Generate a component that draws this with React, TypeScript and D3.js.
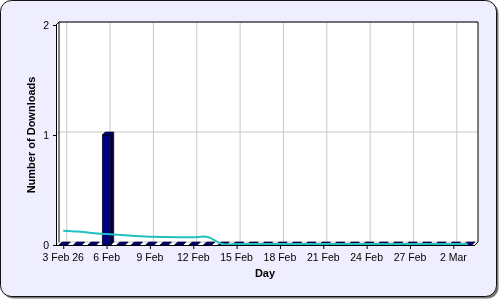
import React from "react";
import * as d3 from "d3";

const days = [
  "3 Feb", "4 Feb", "5 Feb", "6 Feb", "7 Feb", "8 Feb", "9 Feb", "10 Feb", "11 Feb", "12 Feb",
  "13 Feb", "14 Feb", "15 Feb", "16 Feb", "17 Feb", "18 Feb", "19 Feb", "20 Feb", "21 Feb", "22 Feb",
  "23 Feb", "24 Feb", "25 Feb", "26 Feb", "27 Feb", "28 Feb", "1 Mar", "2 Mar", "3 Mar",
];
const downloads = [
  0, 0, 0, 1, 0, 0, 0, 0, 0, 0,
  0, 0, 0, 0, 0, 0, 0, 0, 0, 0,
  0, 0, 0, 0, 0, 0, 0, 0, 0,
];
const trend = [
  0.121, 0.113, 0.1, 0.09, 0.081, 0.073, 0.067, 0.063, 0.061, 0.061,
  0.064, 0, 0, 0, 0, 0, 0, 0, 0, 0,
  0, 0, 0, 0, 0, 0, 0, 0, 0,
];
const tickDays = ["3 Feb", "6 Feb", "9 Feb", "12 Feb", "15 Feb", "18 Feb", "21 Feb", "24 Feb", "27 Feb", "2 Mar"];
const tickLabels = ["3 Feb 26", "6 Feb", "9 Feb", "12 Feb", "15 Feb", "18 Feb", "21 Feb", "24 Feb", "27 Feb", "2 Mar"];
const yTicks = [0, 1, 2];

const W = 500, H = 300;
const left = 56, right = 475, top = 25, bottom = 245;
const DX = 3, DY = 3;
const FONT = "'Liberation Sans', Arial, sans-serif";

export default function App() {
  const x = d3.scaleBand<string>().domain(days).range([left, right]).paddingInner(0.41).paddingOuter(0.2);
  const step = x.step();
  const xc = d3.scalePoint<string>().domain(days).range([left + step / 2, right - step / 2]);
  const y = d3.scaleLinear().domain([0, 2]).range([bottom, top]);
  const bw = x.bandwidth();

  const line = d3
    .line<number>()
    .x((_, i) => xc(days[i]) as number)
    .y((v) => y(v) - 1)
    .curve(d3.curveCatmullRom.alpha(0.5));

  return (
    <div style={{ position: "fixed", left: 0, top: 0 }}>
      <svg width={W} height={H} style={{ display: "block" }}>
        <rect x={2.5} y={2.5} width={496} height={296} rx={11} fill="#777" />
        <rect x={0.5} y={0.5} width={496} height={296} rx={11} fill="#EEEEFF" stroke="#111" />
        {/* plot background with 3D walls */}
        <polygon
          points={`${left},${bottom} ${left},${top} ${left + DX},${top - DY} ${right + DX},${top - DY} ${right + DX},${bottom - DY} ${right},${bottom}`}
          fill="#fff"
        />
        {/* horizontal grid on back wall */}
        {yTicks.map((t) => (
          <g key={"hg" + t}>
            <line x1={left + DX} x2={right + DX} y1={y(t) - DY} y2={y(t) - DY} stroke="#c8c8c8" />
            <line x1={left} x2={left + DX} y1={y(t)} y2={y(t) - DY} stroke="#c8c8c8" />
          </g>
        ))}
        {/* vertical grid */}
        {tickDays.map((d) => (
          <line key={"vg" + d} x1={(xc(d) as number) + DX + 0.5} x2={(xc(d) as number) + DX + 0.5} y1={top - DY} y2={bottom - DY} stroke="#c8c8c8" />
        ))}
        {/* back wall frame */}
        <polyline
          points={`${left + DX},${bottom - DY} ${left + DX},${top - DY} ${right + DX},${top - DY} ${right + DX},${bottom - DY} ${right},${bottom}`}
          fill="none"
          stroke="#000"
        />
        <line x1={left} y1={top} x2={left + DX} y2={top - DY} stroke="#000" />
        {/* bars */}
        {days.map((d, i) => {
          const x0 = x(d) as number;
          const x1 = x0 + bw;
          const yt = y(downloads[i]);
          return (
            <g key={"b" + d} stroke="#000" strokeWidth={0.6}>
              {downloads[i] > 0 && (
                <>
                  <polygon points={`${x1},${bottom} ${x1},${yt} ${x1 + DX},${yt - DY} ${x1 + DX},${bottom - DY}`} fill="#00003a" />
                  <rect x={x0} y={yt} width={bw} height={bottom - yt} fill="#000080" />
                </>
              )}
              <polygon points={`${x0},${yt} ${x1},${yt} ${x1 + DX},${yt - DY} ${x0 + DX},${yt - DY}`} fill="#000080" />
            </g>
          );
        })}
        {/* trend line */}
        <path d={line(trend) as string} fill="none" stroke="#22C0C0" strokeWidth={2} />
        {/* axes */}
        <line x1={left + 0.5} x2={left + 0.5} y1={top} y2={bottom} stroke="#000" />
        <line x1={left} x2={right} y1={bottom + 0.5} y2={bottom + 0.5} stroke="#000" />
        {yTicks.map((t) => (
          <g key={"yt" + t}>
            <line x1={left - 3} x2={left} y1={y(t) + 0.5} y2={y(t) + 0.5} stroke="#000" />
            <text x={left - 7} y={y(t) + 4} textAnchor="end" fontSize={10.5} fontFamily={FONT} fill="#000">
              {t}
            </text>
          </g>
        ))}
        {tickDays.map((d, i) => (
          <g key={"xt" + d}>
            <line x1={(xc(d) as number) + 0.5} x2={(xc(d) as number) + 0.5} y1={bottom} y2={bottom + 4} stroke="#000" />
            <text x={xc(d) as number} y={261} textAnchor="middle" fontSize={10.5} fontFamily={FONT} fill="#000">
              {tickLabels[i]}
            </text>
          </g>
        ))}
        <text x={265} y={277} textAnchor="middle" fontSize={11} fontWeight="bold" fontFamily={FONT} fill="#000">
          Day
        </text>
        <text
          transform={`translate(35,${(top + bottom) / 2}) rotate(-90)`}
          textAnchor="middle"
          fontSize={11}
          fontWeight="bold"
          fontFamily={FONT}
          fill="#000"
        >
          Number of Downloads
        </text>
      </svg>
    </div>
  );
}
